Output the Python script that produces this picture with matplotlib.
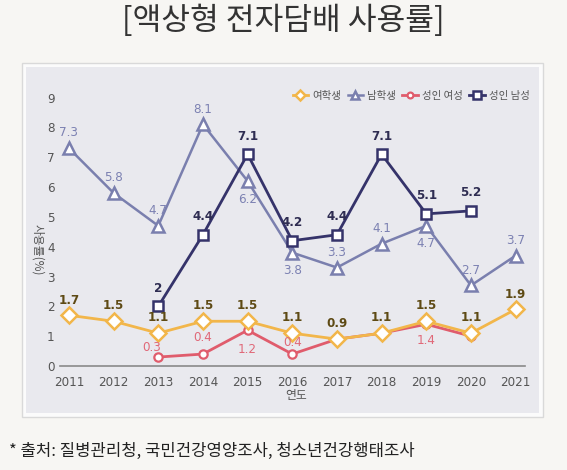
import matplotlib
matplotlib.use("Agg")
import matplotlib.pyplot as plt
from matplotlib.patches import Rectangle

# data
years = [2011, 2012, 2013, 2014, 2015, 2016, 2017, 2018, 2019, 2020, 2021]
girls = [1.7, 1.5, 1.1, 1.5, 1.5, 1.1, 0.9, 1.1, 1.5, 1.1, 1.9]
boys = [7.3, 5.8, 4.7, 8.1, 6.2, 3.8, 3.3, 4.1, 4.7, 2.7, 3.7]
adult_f_years = [2013, 2014, 2015, 2016, 2017, 2018, 2019, 2020]
adult_f = [0.3, 0.4, 1.2, 0.4, 0.9, 1.1, 1.4, 1.0]
adult_m_years = [2013, 2014, 2015, 2016, 2017, 2018, 2019, 2020]
adult_m = [2.0, 4.4, 7.1, 4.2, 4.4, 7.1, 5.1, 5.2]
series_names = ["여학생", "남학생", "성인 여성", "성인 남성"]

KR = ["Noto Sans CJK KR", "DejaVu Sans"]
NUM = ["DejaVu Sans"]

W, H = 567, 470
fig = plt.figure(figsize=(W / 100, H / 100), dpi=100, facecolor="#f7f6f3")

def fx(px):
    return px / W

def fy(py):
    return 1 - py / H

# panel behind the chart
fig.patches.append(Rectangle((fx(22), fy(417)), fx(543) - fx(22), fy(63) - fy(417),
                             transform=fig.transFigure, facecolor="#fbfbfb",
                             edgecolor="#d9d9d9", linewidth=1.0, zorder=-10))
fig.patches.append(Rectangle((fx(26), fy(413)), fx(539) - fx(26), fy(67) - fy(413),
                             transform=fig.transFigure, facecolor="#e9e9ee",
                             edgecolor="none", zorder=-9))

# axes: x 2011 -> px 69, 2021 -> px 515.5 ; y 0 -> px 366, 9 -> px 97.5
ax = fig.add_axes([fx(60), fy(366), fx(525) - fx(60), fy(85) - fy(366)])
ax.set_zorder(1)
ax.set_facecolor("none")
ax.set_xlim(2010.80, 2021.21)
ax.set_ylim(0, (366 - 85) / 29.83)
for s in ["top", "right", "left"]:
    ax.spines[s].set_visible(False)
ax.spines["bottom"].set_color("#8a8a8a")
ax.spines["bottom"].set_linewidth(1.2)
ax.set_xticks(years)
ax.set_xticklabels([str(y) for y in years], family=NUM, stretch="condensed",
                   fontsize=9.5, color="#555555")
ax.set_yticks(range(10))
ax.set_yticklabels([str(i) for i in range(10)], family=NUM, stretch="condensed",
                   fontsize=9.5, color="#555555")
ax.tick_params(axis="x", length=0, pad=7)
ax.tick_params(axis="y", length=0, pad=4)

c_girls, c_boys, c_af, c_am = "#f2b64a", "#7a7fae", "#e05c6c", "#35336a"

l1, = ax.plot(years, girls, color=c_girls, lw=2, marker="D", ms=8, mfc="white",
              mec=c_girls, mew=1.8, zorder=5, clip_on=False)
l2, = ax.plot(years, boys, color=c_boys, lw=1.8, marker="^", ms=9, mfc="white",
              mec=c_boys, mew=1.8, zorder=3, clip_on=False)
l3, = ax.plot(adult_f_years, adult_f, color=c_af, lw=2, marker="o", ms=6, mfc="white",
              mec=c_af, mew=1.6, zorder=4, clip_on=False)
l4, = ax.plot(adult_m_years, adult_m, color=c_am, lw=2, marker="s", ms=7.5, mfc="white",
              mec=c_am, mew=1.8, zorder=4, clip_on=False)

# value labels (offsets in points)
up, dn = 11, -13

def label(xs, vs, offs, color, weight):
    for x, v, o in zip(xs, vs, offs):
        if o is None:
            continue
        dx, dy = o
        ax.annotate(f"{v:g}", (x, v), xytext=(dx, dy), textcoords="offset points",
                    ha="center", va="center", family=NUM, stretch="condensed",
                    fontsize=9.5, color=color, fontweight=weight, zorder=6)

label(years, boys, [(0, up), (0, up), (0, up), (0, up), (0, dn), (0, dn),
                    (0, up), (0, up), (0, dn), (0, up), (0, up)], "#7c81b2", "normal")
label(adult_m_years, adult_m, [(0, 13)] * 8, "#2f2d52", "bold")
label(years, girls, [(0, up)] * 11, "#5e4a14", "bold")
label(adult_f_years, adult_f, [(-5, 7), (0, 12), (0, -14), (0, 8), None, None, (0, -12), None],
      "#e06878", "normal")

# legend
leg = fig.legend([l1, l2, l3, l4], series_names, loc="center right",
                 bbox_to_anchor=(fx(530), fy(96)), ncol=4, frameon=False,
                 prop={"family": KR, "size": 7.5}, labelcolor="#555555",
                 handlelength=1.5, handletextpad=0.4, columnspacing=0.6,
                 markerscale=0.7, borderaxespad=0, borderpad=0)

fig.text(fx(38), fy(250), "사용률(%)", rotation=270, ha="center", va="center",
         family=KR, fontsize=8.5, color="#555555")
fig.text(fx(296), fy(396), "연도", ha="center", va="center", family=KR,
         fontsize=8.5, color="#555555")

fig.text(0.5, fy(21), "[액상형 전자담배 사용률]", ha="center", va="center",
         family=KR, fontsize=22.5, color="#333333")
fig.text(fx(9), fy(451), "* 출처: 질병관리청, 국민건강영양조사, 청소년건강행태조사",
         ha="left", va="center", family=KR, fontsize=12, color="#222222")

fig.savefig("out.png", dpi=100, facecolor=fig.get_facecolor())
